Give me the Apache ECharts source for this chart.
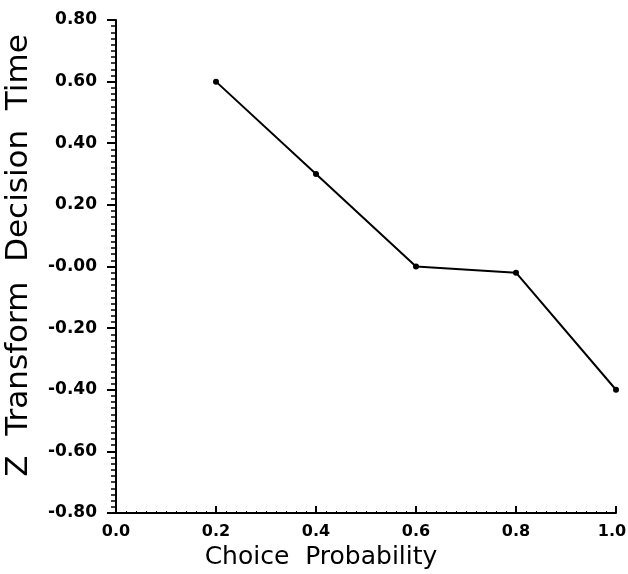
<!DOCTYPE html>
<html>
<head>
<meta charset="utf-8">
<script src="https://cdn.jsdelivr.net/npm/echarts@6/dist/echarts.min.js"></script>
<style>
  html, body { margin: 0; padding: 0; background: #fff; }
  #chart { width: 628px; height: 574px; }
</style>
</head>
<body>
<div id="chart"></div>
<script>
const xValues = [0.2, 0.4, 0.6, 0.8, 1.0]
const zValues = [0.60, 0.30, 0.00, -0.02, -0.40]

const chart = echarts.init(document.getElementById('chart'))

const labelStyle = {
  color: '#000',
  fontFamily: 'DejaVu Sans',
  fontWeight: 'bold',
  fontSize: 16
}
const nameStyle = { color: '#000', fontFamily: 'DejaVu Sans', fontSize: 25 }

chart.setOption({
  animation: false,
  grid: { left: 116, right: 12, top: 20, bottom: 61, outerBoundsMode: 'none' },
  xAxis: {
    type: 'value',
    min: 0,
    max: 1,
    interval: 0.2,
    name: 'Choice  Probability',
    nameLocation: 'middle',
    nameGap: 31,
    nameTextStyle: { ...nameStyle, padding: [0, 90, 0, 0] },
    axisLine: { show: true, onZero: false, lineStyle: { color: '#000', width: 2 } },
    axisTick: { show: true, inside: true, length: 7, lineStyle: { color: '#000', width: 2 } },
    minorTick: { show: true, splitNumber: 10, length: 2, lineStyle: { color: '#000', width: 1 } },
    axisLabel: {
      ...labelStyle,
      margin: 11,
      formatter: v => (v >= 1 ? '{end|' + v.toFixed(1) + '}' : v.toFixed(1)),
      rich: { end: { ...labelStyle, padding: [0, 8, 0, 0] } }
    },
    splitLine: { show: false },
    minorSplitLine: { show: false }
  },
  yAxis: {
    type: 'value',
    min: -0.8,
    max: 0.8,
    interval: 0.2,
    name: 'Z  Transform  Decision  Time',
    nameLocation: 'middle',
    nameGap: 82,
    nameTextStyle: { ...nameStyle, fontSize: 31, padding: [0, 0, 0, 22] },
    axisLine: { show: true, onZero: false, lineStyle: { color: '#000', width: 2 } },
    axisTick: { show: true, length: 9, lineStyle: { color: '#000', width: 2 } },
    minorTick: { show: true, splitNumber: 10, length: 5, lineStyle: { color: '#000', width: 1.5 } },
    axisLabel: {
      ...labelStyle,
      fontSize: 17,
      margin: 19,
      formatter: v => (Math.abs(v) < 1e-9 ? '-0.00' : v.toFixed(2))
    },
    splitLine: { show: false },
    minorSplitLine: { show: false }
  },
  series: [{
    type: 'line',
    data: xValues.map((x, i) => [x, zValues[i]]),
    symbol: 'circle',
    symbolSize: 6,
    itemStyle: { color: '#000' },
    lineStyle: { color: '#000', width: 2 }
  }]
})
</script>
</body>
</html>
